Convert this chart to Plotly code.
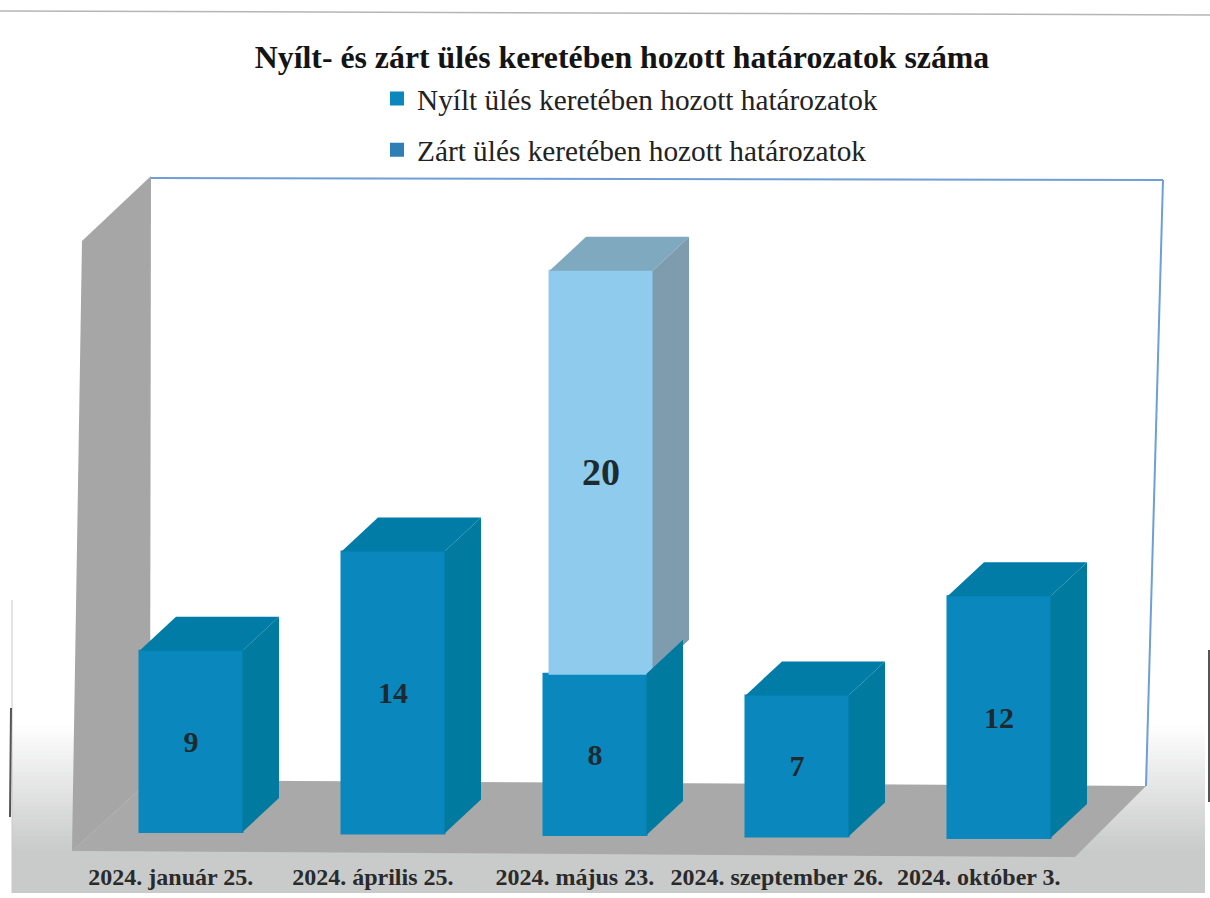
import plotly.graph_objects as go

# ---- data ----
categories = ["2024. január 25.", "2024. április 25.", "2024. május 23.",
              "2024. szeptember 26.", "2024. október 3."]
open_values = [9, 14, 8, 7, 12]
closed_values = [None, None, 20, None, None]
open_name = "Nyílt ülés keretében hozott határozatok"
closed_name = "Zárt ülés keretében hozott határozatok"
title_text = "Nyílt- és zárt ülés keretében hozott határozatok száma"

# ---- geometry and style ----
W, H = 1210, 898
PX_X, PX_Y = 202.0, 20.15      # pixels per category / per value unit
X0_PX, Y0_PX = 191.0, 835.0    # pixel of category 0 / of value 0
BAR_W = 0.51
DEPTH_X, DEPTH_Y = 36.5 / PX_X, 34 / PX_Y
TILT = 0.075                   # floor slope of the scan, value units per category
LEAN = 0.03                    # upper segment leans right in the scan's perspective
SERIF = "Liberation Serif"
C_OPEN, C_OPEN_TOP, C_OPEN_SIDE = "#0a87bd", "#007ca6", "#007a9f"
C_CLOSED, C_CLOSED_TOP, C_CLOSED_SIDE = "#8ecbec", "#7fa9bf", "#7f9cae"
C_CLOSED_KEY = "#2f7fb6"
C_WALL, C_FLOOR = "#a6a6a6", "#a9a9a9"
C_TEXT = "#1d2a30"

idx = list(range(len(categories)))
base = [(2 - i) * TILT for i in idx]


def face(xs, ys, color):
    return go.Scatter(x=xs, y=ys, mode="lines", fill="toself", fillcolor=color,
                      line=dict(width=0, color=color), hoverinfo="skip", showlegend=False)


def box_faces(c, low, high, top_color, side_color, with_top=True):
    r = c + BAR_W / 2
    l = c - BAR_W / 2
    out = [face([r, r + DEPTH_X, r + DEPTH_X, r, r],
                [low, low + DEPTH_Y, high + DEPTH_Y, high, low], side_color)]
    if with_top:
        out.append(face([l, r, r + DEPTH_X, l + DEPTH_X, l],
                        [high, high, high + DEPTH_Y, high + DEPTH_Y, high], top_color))
    return out


fig = go.Figure()
fig.add_trace(go.Bar(
    x=idx, y=open_values, base=base, width=BAR_W, name=open_name,
    marker=dict(color=C_OPEN, line=dict(width=2, color=C_OPEN)),
    text=open_values, textposition="inside", insidetextanchor="middle", textangle=0,
    textfont=dict(family=SERIF, size=30, color=C_TEXT, weight="bold"), legendgroup="a"))
closed_base = [base[i] + open_values[i] for i in idx]
closed_colors = [C_CLOSED_KEY if v is None else C_CLOSED for v in closed_values]
fig.add_trace(go.Bar(
    x=[i + LEAN for i in idx], y=closed_values, base=closed_base, width=BAR_W, name=closed_name,
    marker=dict(color=closed_colors, line=dict(width=2, color=closed_colors)),
    text=closed_values, textposition="inside", insidetextanchor="middle", textangle=0,
    textfont=dict(family=SERIF, size=38, color=C_TEXT, weight="bold"), legendgroup="b"))

for i in idx:
    low, high = base[i], base[i] + open_values[i]
    has_upper = closed_values[i] is not None
    if has_upper:
        for tr in box_faces(i + LEAN, high, high + closed_values[i], C_CLOSED_TOP, C_CLOSED_SIDE):
            fig.add_trace(tr)
    for tr in box_faces(i, low, high, C_OPEN_TOP, C_OPEN_SIDE, not has_upper):
        fig.add_trace(tr)


# ---- scenery behind the bars (paper coordinates given in picture pixels) ----
def path(points):
    return "M" + "L".join(f"{x / W:.5f},{1 - y / H:.5f}" for x, y in points) + "Z"


def poly(points, color):
    return dict(type="path", path=path(points), xref="paper", yref="paper", layer="below",
                fillcolor=color, line=dict(width=0))


def rect(x0, y0, x1, y1, color):
    return dict(type="rect", xref="paper", yref="paper", layer="below",
                x0=x0 / W, x1=x1 / W, y0=1 - y0 / H, y1=1 - y1 / H,
                fillcolor=color, line=dict(width=0))


def seg(x0, y0, x1, y1, color, width):
    return dict(type="line", xref="paper", yref="paper", layer="below",
                x0=x0 / W, x1=x1 / W, y0=1 - y0 / H, y1=1 - y1 / H,
                line=dict(color=color, width=width))


shapes = []
steps = 30
top_grad, bottom_grad = 725, 853
end = (0xc9, 0xcb, 0xca)
for k in range(steps):
    t = (k + 1) / steps
    yy = top_grad + (bottom_grad - top_grad) * k / steps
    col = tuple(round(255 + (e - 255) * t) for e in end)
    shapes.append(rect(12, yy, 1205, 893, f"rgb{col}"))
shapes.append(poly([(150, 178), (1162, 179), (1145, 786), (150, 780)], "#ffffff"))
shapes.append(poly([(82, 241), (151, 176), (150, 780), (72, 851)], C_WALL))
shapes.append(poly([(150, 780), (1146, 786), (1075, 857), (72, 851)], C_FLOOR))
shapes.append(seg(151, 178, 1163, 180, "#6f9fd6", 2))
shapes.append(seg(1163, 180, 1146, 786, "#6f9fd6", 2))
shapes.append(seg(0, 11, 1210, 15, "#b5b5b5", 1.5))
shapes.append(seg(12, 600, 12, 893, "#c8c8c8", 1))
shapes.append(seg(11, 708, 10, 817, "#555555", 2))
shapes.append(seg(1209, 650, 1209, 802, "#555555", 2))

fig.update_layout(
    width=W, height=H,
    autosize=False,
    margin=dict(l=0, r=0, t=0, b=0),
    paper_bgcolor="#ffffff",
    plot_bgcolor="rgba(0,0,0,0)",
    barmode="overlay",
    shapes=shapes,
    title=dict(text=f"<b>{title_text}</b>", x=622 / W, xanchor="center", xref="paper",
               y=1 - 57 / H, yanchor="middle", yref="paper",
               font=dict(family=SERIF, size=31.8, color="#141414")),
    legend=dict(x=377 / W, y=1 - 73 / H, xanchor="left", yanchor="top",
                bgcolor="rgba(0,0,0,0)", tracegroupgap=10,
                font=dict(family=SERIF, size=29.3, color="#222222")),
    xaxis=dict(range=[-X0_PX / PX_X, (W - X0_PX) / PX_X], anchor="free", position=1 - 860 / H,
               tickmode="array", tickvals=[i - 0.1 for i in idx], ticktext=categories,
               tickfont=dict(family=SERIF, size=24, color="#2a2a2a", weight="bold"),
               ticks="", showgrid=False, zeroline=False, showline=False, tickangle=0,
               automargin=False),
    yaxis=dict(range=[-(H - Y0_PX) / PX_Y, Y0_PX / PX_Y], visible=False,
               showgrid=False, zeroline=False),
)
fig.write_html("out.html", config=dict(displayModeBar=False),
               post_script="document.body.style.margin='0';document.body.style.overflow='hidden';")
